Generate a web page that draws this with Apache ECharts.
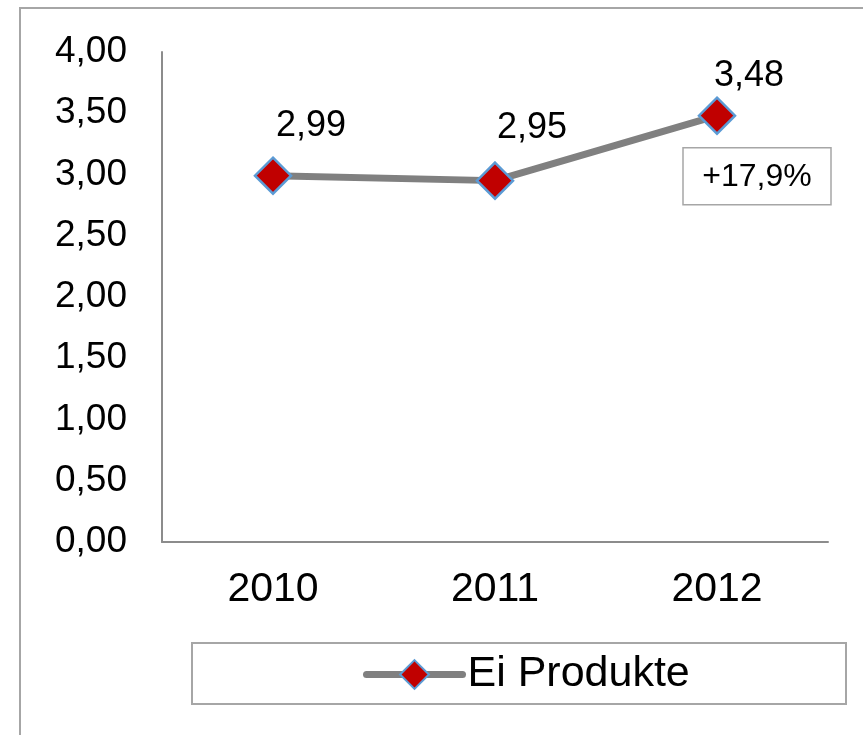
<!DOCTYPE html>
<html>
<head>
<meta charset="utf-8">
<script src="https://cdn.jsdelivr.net/npm/echarts@6/dist/echarts.min.js"></script>
<style>
  html, body { margin: 0; padding: 0; background: #ffffff; }
  #chart { width: 863px; height: 735px; }
</style>
</head>
<body>
<div id="chart"></div>
<script>
// ---- data ----
const categories = ['2010', '2011', '2012'];
const seriesName = 'Ei Produkte';
const values = [2.99, 2.95, 3.48];
const yTicks = [0, 0.5, 1, 1.5, 2, 2.5, 3, 3.5, 4];
const annotationText = '+17,9%';

const fmt = v => v.toFixed(2).replace('.', ',');
const FONT = '"Liberation Sans", Arial, sans-serif';

const labelOffsets = [[38, -50], [37, -53], [32, -40]];

const chart = echarts.init(document.getElementById('chart'), null, { renderer: 'canvas' });

const option = {
  backgroundColor: '#ffffff',
  animation: false,
  grid: { left: 162, right: 35, top: 52, bottom: 193, containLabel: false },
  xAxis: {
    type: 'category',
    data: categories,
    boundaryGap: true,
    axisLine: { show: true, lineStyle: { color: '#8c8c8c', width: 2 } },
    axisTick: { show: false },
    axisLabel: { color: '#000', fontFamily: FONT, fontSize: 41, margin: 27 },
    splitLine: { show: false }
  },
  yAxis: {
    type: 'value',
    min: yTicks[0],
    max: yTicks[yTicks.length - 1],
    interval: yTicks[1] - yTicks[0],
    axisLine: { show: true, lineStyle: { color: '#8c8c8c', width: 2 } },
    axisTick: { show: false },
    axisLabel: { color: '#000', fontFamily: FONT, fontSize: 37, margin: 35, formatter: v => fmt(v) },
    splitLine: { show: false }
  },
  legend: {
    data: [seriesName],
    left: 358,
    top: 648,
    itemWidth: 96,
    itemHeight: 36,
    itemGap: 7,
    lineStyle: { color: '#808080', width: 7, cap: 'round' },
    textStyle: { color: '#000', fontFamily: FONT, fontSize: 43 }
  },
  series: [{
    name: seriesName,
    type: 'line',
    data: values.map((v, i) => ({ value: v, label: { offset: labelOffsets[i] } })),
    symbol: 'diamond',
    symbolSize: 36,
    lineStyle: { color: '#808080', width: 7 },
    itemStyle: { color: '#c00000', borderColor: '#5b9bd5', borderWidth: 2.5 },
    label: {
      show: true,
      position: 'inside',
      color: '#000',
      fontFamily: FONT,
      fontSize: 36,
      formatter: p => fmt(p.value)
    }
  }]
};
chart.setOption(option);

// frame, legend box and annotation box positioned relative to the 2012 point
const p = chart.convertToPixel({ seriesIndex: 0 }, [categories.length - 1, values[values.length - 1]]);
chart.setOption({
  graphic: [
    {
      type: 'rect', z: -10, silent: true,
      shape: { x: 20, y: 8, width: 880, height: 760 },
      style: { fill: 'none', stroke: '#a6a6a6', lineWidth: 2 }
    },
    {
      type: 'rect', z: -5, silent: true,
      shape: { x: 192, y: 643, width: 654, height: 61 },
      style: { fill: '#fff', stroke: '#a6a6a6', lineWidth: 2 }
    },
    {
      type: 'rect', z: 10, silent: true,
      shape: { x: p[0] - 34, y: p[1] + 32, width: 148, height: 57 },
      style: { fill: '#fff', stroke: '#a6a6a6', lineWidth: 1.5 }
    },
    {
      type: 'text', z: 11, silent: true,
      x: p[0] - 34 + 74, y: p[1] + 32 + 29,
      style: {
        text: annotationText, fill: '#000', font: '32px ' + FONT,
        align: 'center', verticalAlign: 'middle'
      }
    }
  ]
});
</script>
</body>
</html>
